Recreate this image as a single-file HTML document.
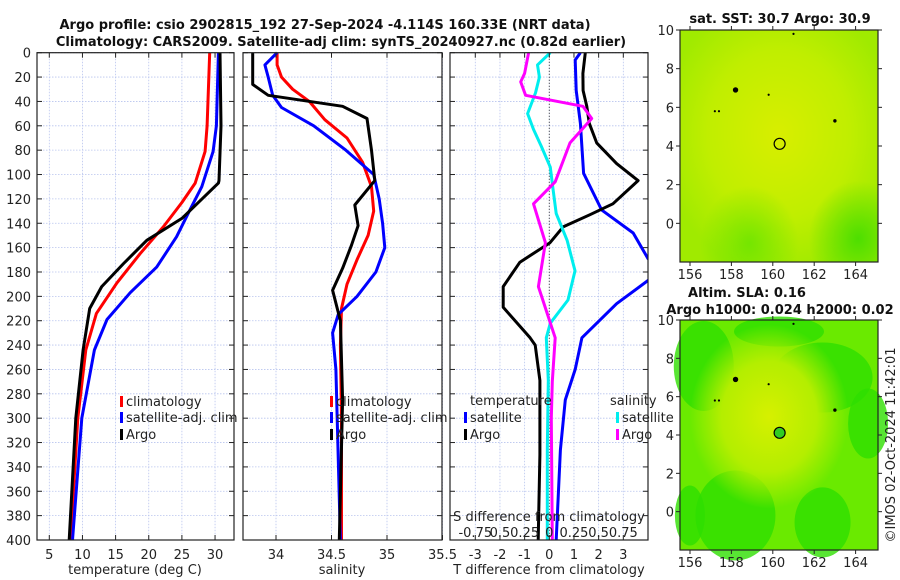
<!DOCTYPE html>
<html><head><meta charset="utf-8"><style>
body{margin:0;background:#fff}
svg{display:block;font-family:"DejaVu Sans","Liberation Sans",sans-serif}
</style></head><body>
<svg id="c" width="900" height="580" viewBox="0 0 900 580" xmlns="http://www.w3.org/2000/svg">
<defs>
<radialGradient id="m1c" cx="0.5" cy="0.45" r="0.6"><stop offset="0" stop-color="#d8ee00"/><stop offset="0.6" stop-color="#c0ee00"/><stop offset="1" stop-color="#a0ea00"/></radialGradient>
<radialGradient id="m1g" cx="0.9" cy="0.9" r="0.25"><stop offset="0" stop-color="#44dd00" stop-opacity="0.9"/><stop offset="1" stop-color="#44dd00" stop-opacity="0"/></radialGradient>
<radialGradient id="m1g2" cx="0.35" cy="0.92" r="0.25"><stop offset="0" stop-color="#66e400" stop-opacity="0.8"/><stop offset="1" stop-color="#66e400" stop-opacity="0"/></radialGradient>
<radialGradient id="m2y" cx="0.45" cy="0.42" r="0.4"><stop offset="0" stop-color="#d6f000"/><stop offset="0.6" stop-color="#b4ee00"/><stop offset="1" stop-color="#b4ee00" stop-opacity="0"/></radialGradient>
</defs>
<g id="plots"></g>
</svg>
<script>
// ---- data ----
const depthTicks=[0,20,40,60,80,100,120,140,160,180,200,220,240,260,280,300,320,340,360,380,400];
const tTicks=[5,10,15,20,25,30];
const sTicks=[34,34.5,35,35.5];
const sTickLabels=["34","34.5","35","35.5"];
const dTicks=[-3,-2,-1,0,1,2,3];
const dsTickLabels=["-0.75","0.5","0.25","0","0.25","0.5","0.75"];

const tClimD=[0,60,81,107,123,143,165,189,214,244,300,400];
const tClimV=[29.2,28.8,28.5,27,25,22.2,18.7,15.2,12.1,10.5,9.3,8.2];
const tSatD=[0,60,81,110,129,151,176,197,219,244,300,400];
const tSatV=[30.5,30.2,29.7,28,26.2,24.2,21.2,17.2,13.7,11.8,9.9,8.5];
const tArgoD=[0,60,105,107,136,154,173,192,210,244,300,400];
const tArgoV=[30.75,30.9,30.6,30.5,25.0,19.7,16.2,12.9,11.1,10.1,9.0,8.0];

const sClimD=[0,10,20,30,40,55,70,90,110,130,150,170,190,210,240,300,400];
const sClimV=[34.01,34.01,34.05,34.15,34.30,34.44,34.64,34.78,34.86,34.88,34.83,34.73,34.64,34.59,34.58,34.59,34.59];
const sSatD=[0,10,20,35,45,60,80,100,120,140,160,180,200,215,230,260,400];
const sSatV=[34.01,33.90,33.93,33.97,34.05,34.34,34.63,34.88,34.93,34.96,34.98,34.90,34.73,34.56,34.51,34.54,34.58];
const sArgoD=[0,26,35,44,54,80,105,125,142,158,177,195,220,285,400];
const sArgoV=[33.79,33.79,33.93,34.60,34.82,34.86,34.89,34.71,34.74,34.68,34.60,34.51,34.58,34.60,34.57];

const dTSatD=[0,6,31,58,99,129,148,169,178,187,206,234,260,285,326,400];
const dTSatV=[1.26,1.05,1.09,1.26,1.39,2.12,3.4,4.0,4.5,4.0,2.73,1.32,1.05,0.65,0.45,0.28];
const dTArgoD=[0,17,31,44,58,74,91,105,124,133,143,156,172,192,209,234,240,269,330,400];
const dTArgoV=[1.46,1.36,1.37,1.52,1.62,1.92,2.73,3.6,2.58,1.65,0.56,0.03,-1.19,-1.87,-1.87,-0.78,-0.57,-0.38,-0.38,-0.45];
const dSSatD=[0,10,20,33,50,63,77,94,113,132,154,179,203,222,234,269,326,400];
const dSSatV=[0.01,-0.12,-0.10,-0.14,-0.22,-0.16,-0.08,0.01,0.04,0.07,0.18,0.26,0.19,0.01,-0.03,-0.01,-0.02,-0.02];
const dSArgoD=[0,17,24,35,44,54,74,106,124,156,192,234,270,300,400];
const dSArgoV=[-0.21,-0.25,-0.29,-0.24,0.34,0.43,0.21,0.06,-0.16,-0.04,-0.11,0.06,0.03,0.02,0.03];

const mapLonTicks=[156,158,160,162,164];
const mapLatTicks=[0,2,4,6,8,10];
const argoLon=160.33, argoLat=4.114;

// ---- helpers ----
const NS="http://www.w3.org/2000/svg";
const root=document.getElementById('plots');
function mk(tag,at,parent){const e=document.createElementNS(NS,tag);for(const k in at)e.setAttribute(k,at[k]);(parent||root).appendChild(e);return e;}
function txt(x,y,s,at,parent){const e=mk('text',Object.assign({x:x,y:y,'font-size':13,fill:'#222'},at||{}),parent);e.textContent=s;return e;}
const Y0=52.7,Y1=540;
const yD=d=>Y0+d*(Y1-Y0)/400;
const xT=t=>49.3+(t-5)*6.63;
const xS=s=>276+(s-34)*111;
const xD=v=>549.3+v*24.67;
const xDS=s=>xD(s*4);

function frame(name){
  const g=mk('g',{});
  
  
  return g;
}
function grid(g,x0,x1,xs){
  depthTicks.forEach(d=>{mk('line',{x1:x0,x2:x1,y1:yD(d),y2:yD(d),stroke:'#b8c4ee','stroke-width':0.8,'stroke-dasharray':'1.5,1.5'},g);});
  xs.forEach(x=>{mk('line',{x1:x,x2:x,y1:Y0,y2:Y1,stroke:'#b8c4ee','stroke-width':0.8,'stroke-dasharray':'1.5,1.5'},g);});
}
function border(g,x0,x1,xs){
  mk('rect',{x:x0,y:Y0,width:x1-x0,height:Y1-Y0,fill:'none',stroke:'#222','stroke-width':1.2},g);
  depthTicks.forEach(d=>{mk('line',{x1:x0,x2:x0+5,y1:yD(d),y2:yD(d),stroke:'#222'},g);mk('line',{x1:x1-5,x2:x1,y1:yD(d),y2:yD(d),stroke:'#222'},g);});
  xs.forEach(x=>{mk('line',{x1:x,x2:x,y1:Y1,y2:Y1-5,stroke:'#222'},g);mk('line',{x1:x,x2:x,y1:Y0,y2:Y0+5,stroke:'#222'},g);});
}
function line(g,D,V,fx,color,name,clip){
  const pts=D.map((d,i)=>fx(V[i]).toFixed(1)+','+yD(d).toFixed(1)).join(' ');
  const p=mk('polyline',{points:pts,fill:'none',stroke:color,'stroke-width':3,'stroke-linejoin':'round'},g);
  if(clip)p.setAttribute('clip-path','url(#'+clip+')');
  
  
}
function legend(g,x,y,color,label,name){
  mk('rect',{x:x,y:y-9,width:3,height:11,fill:color},g);
  const t=txt(x+6,y+1,label,{'font-size':13},g);
  
  
}

// titles
const t1=txt(325,29,'Argo profile: csio 2902815_192 27-Sep-2024 -4.114S 160.33E (NRT data)',{'font-size':13,'font-weight':'bold','text-anchor':'middle',fill:'#111'});

const t2=txt(341,46,'Climatology: CARS2009. Satellite-adj clim: synTS_20240927.nc (0.82d earlier)',{'font-size':13,'font-weight':'bold','text-anchor':'middle',fill:'#111'});


// depth axis labels
const ya=mk('g',{});

depthTicks.forEach(d=>txt(31,yD(d)+5,String(d),{'text-anchor':'end'},ya));

// panel 1 temperature
const p1=frame('temperature-panel');
grid(p1,37,234,tTicks.map(xT));
line(p1,tClimD,tClimV,xT,'#ff0000','temp-climatology-line');
line(p1,tSatD,tSatV,xT,'#0000ff','temp-satellite-line');
line(p1,tArgoD,tArgoV,xT,'#000000','temp-argo-line');
border(p1,37,234,tTicks.map(xT));
tTicks.forEach(t=>txt(xT(t),559,String(t),{'text-anchor':'middle'},p1));
const xl1=txt(135,574,'temperature (deg C)',{'text-anchor':'middle'},p1);

legend(p1,120,405,'#ff0000','climatology','legend-climatology');
legend(p1,120,421,'#0000ff','satellite-adj. clim','legend-satellite');
legend(p1,120,438,'#000000','Argo','legend-argo');

// panel 2 salinity
const p2=frame('salinity-panel');
grid(p2,243,442,sTicks.map(xS));
line(p2,sClimD,sClimV,xS,'#ff0000','sal-climatology-line');
line(p2,sSatD,sSatV,xS,'#0000ff','sal-satellite-line');
line(p2,sArgoD,sArgoV,xS,'#000000','sal-argo-line');
border(p2,243,442,sTicks.map(xS));
sTicks.forEach((s,i)=>txt(xS(s),559,sTickLabels[i],{'text-anchor':'middle'},p2));
const xl2=txt(342,574,'salinity',{'text-anchor':'middle'},p2);

legend(p2,330,405,'#ff0000','climatology','legend-climatology-2');
legend(p2,330,421,'#0000ff','satellite-adj. clim','legend-satellite-2');
legend(p2,330,438,'#000000','Argo','legend-argo-2');

// panel 3 differences
const p3=frame('difference-panel');
const cp=mk('clipPath',{id:'cp3'},p3);mk('rect',{x:450,y:Y0,width:198,height:Y1-Y0},cp);
grid(p3,450,648,dTicks.map(xD));
mk('line',{x1:xD(0),x2:xD(0),y1:Y0,y2:Y1,stroke:'#333','stroke-width':1,'stroke-dasharray':'1,2'},p3);
line(p3,dTSatD,dTSatV,xD,'#0000ff','tdiff-satellite-line','cp3');
line(p3,dTArgoD,dTArgoV,xD,'#000000','tdiff-argo-line','cp3');
line(p3,dSSatD,dSSatV,xDS,'#00eeee','sdiff-satellite-line','cp3');
line(p3,dSArgoD,dSArgoV,xDS,'#ff00ff','sdiff-argo-line','cp3');
border(p3,450,648,dTicks.map(xD));
dTicks.forEach(v=>txt(xD(v),559,String(v),{'text-anchor':'middle'},p3));
const xl3=txt(549,574,'T difference from climatology',{'text-anchor':'middle'},p3);

const sl=txt(549,521,'S difference from climatology',{'text-anchor':'middle'},p3);

dTicks.forEach((v,i)=>txt(xD(v),537,dsTickLabels[i],{'text-anchor':'middle'},p3));
txt(470,405,'temperature',{},p3);
txt(610,405,'salinity',{},p3);
legend(p3,464,421,'#0000ff','satellite','legend-tdiff-satellite');
legend(p3,464,438,'#000000','Argo','legend-tdiff-argo');
legend(p3,616,421,'#00eeee','satellite','legend-sdiff-satellite');
legend(p3,616,438,'#ff00ff','Argo','legend-sdiff-argo');

// maps
function map(top,bottom,name,fillFn){
  const g=mk('g',{});
  
  const x0=680,x1=878;
  const lon=l=>690+(l-156)*20.7;
  const lat=a=>bottom-(a+2)*(bottom-top)/12;
  fillFn(g,x0,top,x1-x0,bottom-top);
  [[158.2,6.9,2.2],[163,5.3,1.2],[159.8,6.65,0.6],[157.2,5.8,0.6],[157.4,5.8,0.6],[161,9.8,0.6]].forEach(p=>mk('circle',{cx:lon(p[0]),cy:lat(p[1]),r:p[2],fill:'#000',stroke:'#000','stroke-width':1},g));
  mk('rect',{x:x0,y:top,width:x1-x0,height:bottom-top,fill:'none',stroke:'#222','stroke-width':1.2},g);
  mapLonTicks.forEach(l=>{mk('line',{x1:lon(l),x2:lon(l),y1:bottom,y2:bottom+4,stroke:'#222'},g);mk('line',{x1:lon(l),x2:lon(l),y1:top,y2:top-4,stroke:'#222'},g);txt(lon(l),bottom+17,String(l),{'text-anchor':'middle'},g);});
  mapLatTicks.forEach(a=>{mk('line',{x1:x0,x2:x0-4,y1:lat(a),y2:lat(a),stroke:'#222'},g);mk('line',{x1:x1,x2:x1+4,y1:lat(a),y2:lat(a),stroke:'#222'},g);txt(674,lat(a)+5,String(a),{'text-anchor':'end'},g);});
  return {g,lon,lat};
}
const m1=map(30,262,'sst-map',(g,x,y,w,h)=>{
  mk('rect',{x:x,y:y,width:w,height:h,fill:'url(#m1c)'},g);
  mk('rect',{x:x,y:y,width:w,height:h,fill:'url(#m1g)'},g);
  mk('rect',{x:x,y:y,width:w,height:h,fill:'url(#m1g2)'},g);
});
const c1=mk('circle',{cx:m1.lon(argoLon),cy:m1.lat(argoLat),r:5.5,fill:'none',stroke:'#000','stroke-width':1.2},m1.g);

const mt1=txt(780,23,'sat. SST: 30.7 Argo: 30.9',{'text-anchor':'middle','font-weight':'bold',fill:'#111'});


const m2=map(320,550,'sla-map',(g,x,y,w,h)=>{
  mk('rect',{x:x,y:y,width:w,height:h,fill:'#6aea00'},g);
  [[0.12,0.2,30,45],[0.72,0.25,50,35],[0.95,0.45,20,35],[0.28,0.85,40,45],[0.72,0.88,28,35],[0.5,0.05,45,15],[0.05,0.85,15,30]].forEach(b=>mk('ellipse',{cx:x+b[0]*w,cy:y+b[1]*h,rx:b[2],ry:b[3],fill:'#2ede00',opacity:0.8},g));
  mk('rect',{x:x,y:y,width:w,height:h,fill:'url(#m2y)'},g);
});
const c2=mk('circle',{cx:m2.lon(argoLon),cy:m2.lat(argoLat),r:5.5,fill:'#33cc22',stroke:'#000','stroke-width':1.2},m2.g);

const mt2=txt(747,297,'Altim. SLA: 0.16',{'text-anchor':'middle','font-weight':'bold',fill:'#111'});

const mt3=txt(780,314,'Argo h1000: 0.024 h2000: 0.02',{'text-anchor':'middle','font-weight':'bold',fill:'#111'});

const cr=txt(0,0,'©IMOS 02-Oct-2024 11:42:01',{'text-anchor':'middle',transform:'translate(895,445) rotate(-90)'});

</script>
</body></html>
